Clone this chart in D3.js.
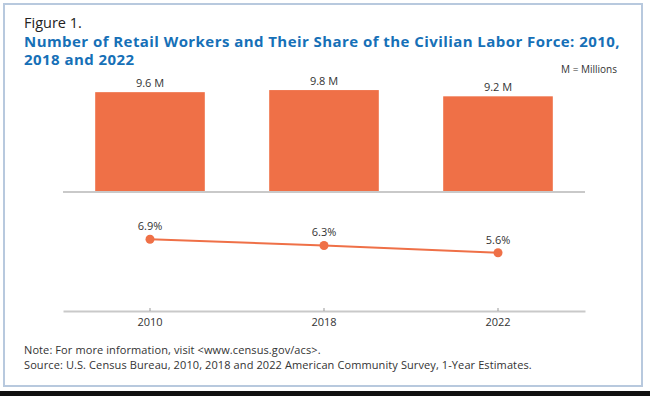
<!DOCTYPE html>
<html>
<head>
<meta charset="utf-8">
<script src="https://cdn.jsdelivr.net/npm/d3@7"></script>
<style>
  body { margin: 0; background: #fff; }
  text { font-family: "Open Sans", "Liberation Sans", sans-serif; }
</style>
</head>
<body>
<svg id="chart" width="650" height="396"></svg>
<script>
// data
var years = ["2010", "2018", "2022"];
var workers = [9.6, 9.8, 9.2];          // millions
var workerLabels = ["9.6 M", "9.8 M", "9.2 M"];
var share = [6.9, 6.3, 5.6];            // percent of civilian labor force
var shareLabels = ["6.9%", "6.3%", "5.6%"];

var orange = "#ef7047",
    blue = "#1670b7",
    grey = "#c9c9c9";

var svg = d3.select("#chart");

// frame
svg.append("rect")
  .attr("x", 4).attr("y", 4)
  .attr("width", 638).attr("height", 382)
  .attr("fill", "#fff")
  .attr("stroke", "#b8c9de")
  .attr("stroke-width", 2);
svg.append("rect")
  .attr("x", 0).attr("y", 391)
  .attr("width", 650).attr("height", 5)
  .attr("fill", "#111");

// header
svg.append("text")
  .attr("x", 24).attr("y", 28)
  .style("font-size", "14.5px")
  .attr("fill", "#222")
  .text("Figure 1.");

svg.append("text")
  .attr("x", 24).attr("y", 47)
  .attr("fill", blue)
  .style("font-size", "15px")
  .style("font-weight", "bold")
  .style("letter-spacing", "0.44px")
  .text("Number of Retail Workers and Their Share of the Civilian Labor Force: 2010,");
svg.append("text")
  .attr("x", 24).attr("y", 65)
  .attr("fill", blue)
  .style("font-size", "15px")
  .style("font-weight", "bold")
  .style("letter-spacing", "0.44px")
  .text("2018 and 2022");

svg.append("text")
  .attr("x", 617).attr("y", 73)
  .attr("text-anchor", "end")
  .style("font-size", "10px")
  .attr("fill", "#333")
  .text("M = Millions");

// shared x scale
var x = d3.scaleBand()
  .domain(years)
  .range([63, 585])
  .paddingInner(0.37)
  .paddingOuter(0.185);

// bars
var yBar = d3.scaleLinear().domain([0, 10]).range([192, 88]);

svg.selectAll(".bar")
  .data(workers)
  .enter().append("rect")
  .attr("class", "bar")
  .attr("x", function(d, i) { return x(years[i]); })
  .attr("y", function(d) { return yBar(d); })
  .attr("width", x.bandwidth())
  .attr("height", function(d) { return yBar(0) - yBar(d); })
  .attr("fill", orange);

svg.append("line")
  .attr("x1", 63).attr("x2", 585)
  .attr("y1", yBar(0)).attr("y2", yBar(0))
  .attr("stroke", grey)
  .attr("stroke-width", 2);

svg.selectAll(".barLabel")
  .data(workers)
  .enter().append("text")
  .attr("class", "barLabel")
  .attr("x", function(d, i) { return x(years[i]) + x.bandwidth() / 2; })
  .attr("y", function(d) { return yBar(d) - 5; })
  .attr("text-anchor", "middle")
  .style("font-size", "11px")
  .attr("fill", "#333")
  .text(function(d, i) { return workerLabels[i]; });

// line
var yLine = d3.scaleLinear().domain([0, 10]).range([311, 207]);
var cx = function(d, i) { return x(years[i]) + x.bandwidth() / 2; };

svg.append("path")
  .datum(share)
  .attr("fill", "none")
  .attr("stroke", orange)
  .attr("stroke-width", 2)
  .attr("d", d3.line()
    .x(cx)
    .y(function(d) { return yLine(d); }));

svg.selectAll(".dot")
  .data(share)
  .enter().append("circle")
  .attr("class", "dot")
  .attr("cx", cx)
  .attr("cy", function(d) { return yLine(d); })
  .attr("r", 4.5)
  .attr("fill", orange);

svg.selectAll(".dotLabel")
  .data(share)
  .enter().append("text")
  .attr("class", "dotLabel")
  .attr("x", cx)
  .attr("y", function(d) { return yLine(d) - 9; })
  .attr("text-anchor", "middle")
  .style("font-size", "11px")
  .attr("fill", "#333")
  .text(function(d, i) { return shareLabels[i]; });

// x axis
var axis = svg.append("g")
  .attr("transform", "translate(0," + yLine(0) + ")")
  .call(d3.axisBottom(x).tickSizeInner(-3).tickSizeOuter(0).tickPadding(7));
axis.select(".domain").attr("stroke", grey).attr("stroke-width", 2);
axis.selectAll(".tick line").attr("stroke", "#999");
axis.selectAll(".tick text")
  .style("font-family", "'Open Sans', 'Liberation Sans', sans-serif")
  .style("font-size", "11px")
  .attr("fill", "#333");

// notes
svg.append("text")
  .attr("x", 24).attr("y", 354)
  .style("font-size", "11px")
  .style("letter-spacing", "0.1px")
  .attr("fill", "#333")
  .text("Note: For more information, visit <www.census.gov/acs>.");
svg.append("text")
  .attr("x", 24).attr("y", 369)
  .style("font-size", "11px")
  .style("letter-spacing", "0.1px")
  .attr("fill", "#333")
  .text("Source: U.S. Census Bureau, 2010, 2018 and 2022 American Community Survey, 1-Year Estimates.");
</script>
</body>
</html>
